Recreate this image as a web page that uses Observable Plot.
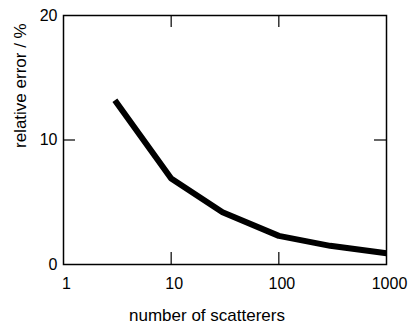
<!DOCTYPE html>
<html>
<head>
<meta charset="utf-8">
<script src="https://cdn.jsdelivr.net/npm/d3@7"></script>
<script src="https://cdn.jsdelivr.net/npm/@observablehq/plot@0.6"></script>
<style>
  html, body { margin: 0; padding: 0; background: #fff; }
  svg { font-family: "Liberation Sans", Arial, sans-serif; }
</style>
</head>
<body>
<div id="chart"></div>
<script>
const scatterers = [3, 10, 30, 100, 300, 1000];
const relError = [13.2, 6.9, 4.2, 2.3, 1.5, 0.9];
const xTickLabels = [1, 10, 100, 1000];
const yTickLabels = [0, 10, 20];
const xInnerTicks = [10, 100];
const yInnerTicks = [10];
const xTitle = "number of scatterers";
const yTitle = "relative error / %";

const data = scatterers.map((n, i) => ({n, e: relError[i]}));

const W = 409, H = 331, ML = 63, MR = 23, MT = 15, MB = 67;
const TICK = 12;
const innerW = W - ML - MR, innerH = H - MT - MB;
const xDomain = [1, 1000], yDomain = [0, 20];
// tick length converted to data units (style, not data)
const yTickLen = (yDomain[1] - yDomain[0]) * TICK / innerH;
const xTickFactor = Math.pow(xDomain[1] / xDomain[0], TICK / innerW);

const chart = Plot.plot({
  width: W,
  height: H,
  marginLeft: ML,
  marginRight: MR,
  marginTop: MT,
  marginBottom: MB,
  style: {background: "#fff", color: "#000", fontSize: "16px", fontFamily: "Liberation Sans, Arial, sans-serif"},
  x: {type: "log", domain: xDomain},
  y: {domain: yDomain},
  marks: [
    Plot.axisX({ticks: xTickLabels, tickSize: 0, tickPadding: 13, dx: 3, tickFormat: d => String(d), fontSize: 16, label: null}),
    Plot.axisY({ticks: yTickLabels, tickSize: 0, tickPadding: 6, fontSize: 16, label: null}),
    Plot.text([xTitle], {text: d => d, frameAnchor: "bottom", dx: -18, dy: 56, fontSize: 17, fill: "#000"}),
    Plot.text([yTitle], {text: d => d, frameAnchor: "left", dx: -43, dy: 8, rotate: -90, fontSize: 17, fill: "#000"}),
    Plot.ruleX(xInnerTicks, {x: d => d, y1: yDomain[0], y2: yDomain[0] + yTickLen, stroke: "#000", strokeWidth: 1.2}),
    Plot.ruleX(xInnerTicks, {x: d => d, y1: yDomain[1] - yTickLen, y2: yDomain[1], stroke: "#000", strokeWidth: 1.2}),
    Plot.ruleY(yInnerTicks, {y: d => d, x1: xDomain[0], x2: xDomain[0] * xTickFactor, stroke: "#000", strokeWidth: 1.2}),
    Plot.ruleY(yInnerTicks, {y: d => d, x1: xDomain[1] / xTickFactor, x2: xDomain[1], stroke: "#000", strokeWidth: 1.2}),
    Plot.frame({stroke: "#000", strokeWidth: 1.5}),
    Plot.line(data, {x: "n", y: "e", stroke: "#000", strokeWidth: 6, strokeLinejoin: "miter", strokeLinecap: "butt"})
  ]
});
document.getElementById("chart").appendChild(chart);
</script>
</body>
</html>
